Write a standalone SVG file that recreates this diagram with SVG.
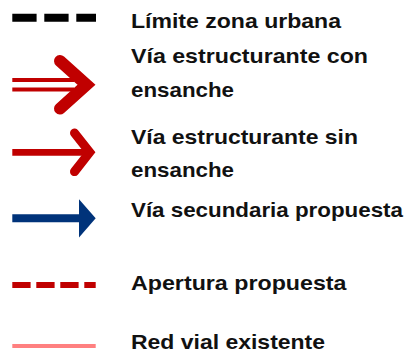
<svg xmlns="http://www.w3.org/2000/svg" width="414" height="355" viewBox="0 0 414 355">
<style>
text{font-family:"Liberation Sans",Arial,sans-serif;font-weight:bold;font-size:21px;fill:#111}
.red{stroke:#C00000;fill:none}
</style>
<rect width="414" height="355" fill="#fff"/>
<g id="limite">
<line x1="12.3" y1="17.7" x2="96" y2="17.7" stroke="#000" stroke-width="8" stroke-dasharray="24.3 7.7"/>
<text x="131" y="27.7" textLength="210" lengthAdjust="spacingAndGlyphs">Límite zona urbana</text>
</g>
<g id="con-ensanche">
<line x1="12.3" y1="80" x2="74" y2="80" class="red" stroke-width="4.2"/>
<line x1="12.3" y1="89.5" x2="74" y2="89.5" class="red" stroke-width="4.2"/>
<path d="M60,61 L86.5,84.8 L60,108.6" class="red" stroke-width="12" stroke-linecap="round" stroke-linejoin="miter" stroke-miterlimit="10"/>
<text x="131" y="63.3" textLength="237" lengthAdjust="spacingAndGlyphs">Vía estructurante con</text>
<text x="131" y="96.7" textLength="103" lengthAdjust="spacingAndGlyphs">ensanche</text>
</g>
<g id="sin-ensanche">
<line x1="12.3" y1="152.3" x2="90" y2="152.3" class="red" stroke-width="6.7"/>
<path d="M74.5,133 L89.7,152.3 L74.5,171.6" class="red" stroke-width="9" stroke-linecap="round" stroke-linejoin="miter" stroke-miterlimit="10"/>
<text x="131" y="144.3" textLength="227" lengthAdjust="spacingAndGlyphs">Vía estructurante sin</text>
<text x="131" y="176.7" textLength="103" lengthAdjust="spacingAndGlyphs">ensanche</text>
</g>
<g id="secundaria">
<line x1="12.3" y1="218.3" x2="80" y2="218.3" stroke="#00337A" stroke-width="8"/>
<polygon points="79,199.3 95.7,218.3 79,237.5" fill="#00337A"/>
<text x="131" y="217.3" textLength="272" lengthAdjust="spacingAndGlyphs">Vía secundaria propuesta</text>
</g>
<g id="apertura">
<line x1="12.3" y1="285" x2="95.7" y2="285" stroke="#C00000" stroke-width="6" stroke-dasharray="18.3 5.7"/>
<text x="131" y="290" textLength="215.5" lengthAdjust="spacingAndGlyphs">Apertura propuesta</text>
</g>
<g id="existente">
<line x1="12.3" y1="346" x2="95.7" y2="346" stroke="#FF8080" stroke-width="4"/>
<text x="131" y="349.3" textLength="194" lengthAdjust="spacingAndGlyphs">Red vial existente</text>
</g>
<g id="connectors"/>
</svg>
